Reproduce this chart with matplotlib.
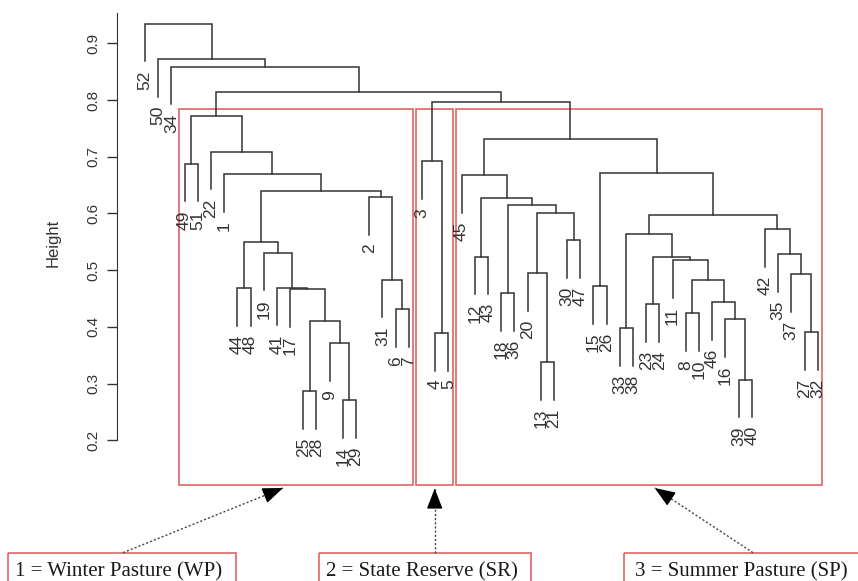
import matplotlib.pyplot as plt
from matplotlib.patches import Rectangle

# hclust-style merge table: negative = observation number, positive = earlier merge row (1-based)
merge_a = [-14, -25, -39, -13, -9, -4, -27, -33, 2, -16,
           -8, -6, -23, -46, -18, -17, -44, -41, -15, -31,
           11, -37, -20, -11, 13, -12, -35, -19, 17, -30,
           8, -42, 31, 23, 15, 26, -2, 29, -45, -1,
           19, -49, -3, -22, 39, 42, 43, 46, -34, -50, -52]
merge_b = [-29, -28, -40, -21, 1, -5, -32, -38, 5, 3,
           -10, -7, -24, 10, -36, 9, -48, 16, -26, 12,
           14, 7, 4, 21, 24, -43, 22, 18, 28, -47,
           25, 27, 32, 30, 34, 35, 20, 37, 36, 38,
           33, -51, 6, 40, 41, 44, 45, 47, 48, 49, 50]
heights = [0.271, 0.286, 0.307, 0.338, 0.371, 0.389, 0.391, 0.398, 0.411, 0.414,
           0.424, 0.431, 0.440, 0.444, 0.459, 0.466, 0.468, 0.469, 0.472, 0.483,
           0.483, 0.493, 0.495, 0.518, 0.523, 0.524, 0.528, 0.531, 0.549, 0.553,
           0.563, 0.572, 0.598, 0.600, 0.615, 0.628, 0.629, 0.640, 0.668, 0.669,
           0.672, 0.688, 0.692, 0.709, 0.731, 0.771, 0.796, 0.814, 0.859, 0.872, 0.935]

# pasture groups: first and last observation of each boxed cluster
group_names = ['1 = Winter Pasture (WP)', '2 = State Reserve (SR)', '3 = Summer Pasture (SP)']
group_first = [49, 3, 45]
group_last = [7, 5, 32]

yticks = [0.2, 0.3, 0.4, 0.5, 0.6, 0.7, 0.8, 0.9]

line_col = '#333333'
red = '#e06464'

W, H = 858, 581
fig = plt.figure(figsize=(W / 100, H / 100), dpi=100)
ax = fig.add_axes([117.3 / W, 1 - 440.2 / H, 720.2 / W, 426.9 / H])
ax.set_facecolor('none')
ax.set_xlim(-2.1, 52.5)
ax.set_ylim(0.2, 0.953)

hang = 0.1 * (max(heights) - min(heights))


def leaves(k):
    if k < 0:
        return [-k]
    return leaves(merge_a[k - 1]) + leaves(merge_b[k - 1])


order = leaves(len(heights))
pos = {obs: i for i, obs in enumerate(order)}
mid = {}


def x_of(k):
    return pos[-k] if k < 0 else mid[k]


for i, (a, b, h) in enumerate(zip(merge_a, merge_b, heights)):
    xa, xb = x_of(a), x_of(b)
    ya = h - hang if a < 0 else heights[a - 1]
    yb = h - hang if b < 0 else heights[b - 1]
    ax.plot([xa, xa, xb, xb], [ya, h, h, yb], color=line_col, lw=1.1,
            solid_joinstyle='miter', clip_on=False)
    mid[i + 1] = (xa + xb) / 2
    for k, xk in ((a, xa), (b, xb)):
        if k < 0:
            ax.annotate(str(-k), (xk, h - hang), xytext=(0, -6.5),
                        textcoords='offset points', rotation=90,
                        rotation_mode='anchor', ha='right', va='center',
                        fontsize=12.5, color=line_col, family='Liberation Sans')

# red boxes round the three clusters
for first, last in zip(group_first, group_last):
    x0 = pos[first] - 0.42
    x1 = pos[last] + 0.32
    ax.add_patch(Rectangle((x0, 0.121), x1 - x0, 0.7836 - 0.121, fill=False,
                           edgecolor=red, lw=1.2, clip_on=False))

for s in ['top', 'right', 'bottom']:
    ax.spines[s].set_visible(False)
ax.spines['left'].set_color(line_col)
ax.set_xticks([])
ax.set_yticks(yticks)
ax.set_yticklabels([f'{t:.1f}' for t in yticks], rotation=90, va='center',
                   family='Liberation Sans', fontsize=11, color=line_col)
ax.tick_params(axis='y', length=7.2, width=1, color=line_col, pad=5)
fig.text(53.3 / W, 1 - 243 / H, 'Height', rotation=90, ha='center', va='center',
         family='Liberation Sans', fontsize=12, color=line_col)

# legend boxes and dotted arrows under the dendrogram (pixel layout)
lay = fig.add_axes([0, 0, 1, 1])
lay.set_xlim(0, W)
lay.set_ylim(H, 0)
lay.axis('off')
lay.set_facecolor('none')

box_x = [(8.3, 236.0), (319.0, 531.3), (624.0, 870.0)]
text_x = [15.0, 326.5, 634.7]
arrows = [((123, 552.7), (283, 488)), ((434.7, 552.7), (434.7, 488.5)),
          ((753, 552.7), (654.7, 488))]

for name, (bx0, bx1), tx, (tail, tip) in zip(group_names, box_x, text_x, arrows):
    lay.add_patch(Rectangle((bx0, 552.7), bx1 - bx0, 60, fill=False,
                            edgecolor=red, lw=1.2))
    lay.text(tx, 576.7, name, ha='left', va='baseline', fontsize=15,
             family='Liberation Serif', color='#1a1a1a')
    lay.plot([tail[0], tip[0]], [tail[1], tip[1]], color='#444444', lw=1,
             ls=(0, (1.5, 1.5)))
    dx, dy = tip[0] - tail[0], tip[1] - tail[1]
    lay.annotate('', xy=tip, xytext=(tip[0] - 0.05 * dx, tip[1] - 0.05 * dy),
                 arrowprops=dict(arrowstyle='-|>,head_length=0.9,head_width=0.35',
                                 color='black', lw=1, shrinkA=0, shrinkB=0,
                                 mutation_scale=14))

fig.savefig('out.png', dpi=100)
